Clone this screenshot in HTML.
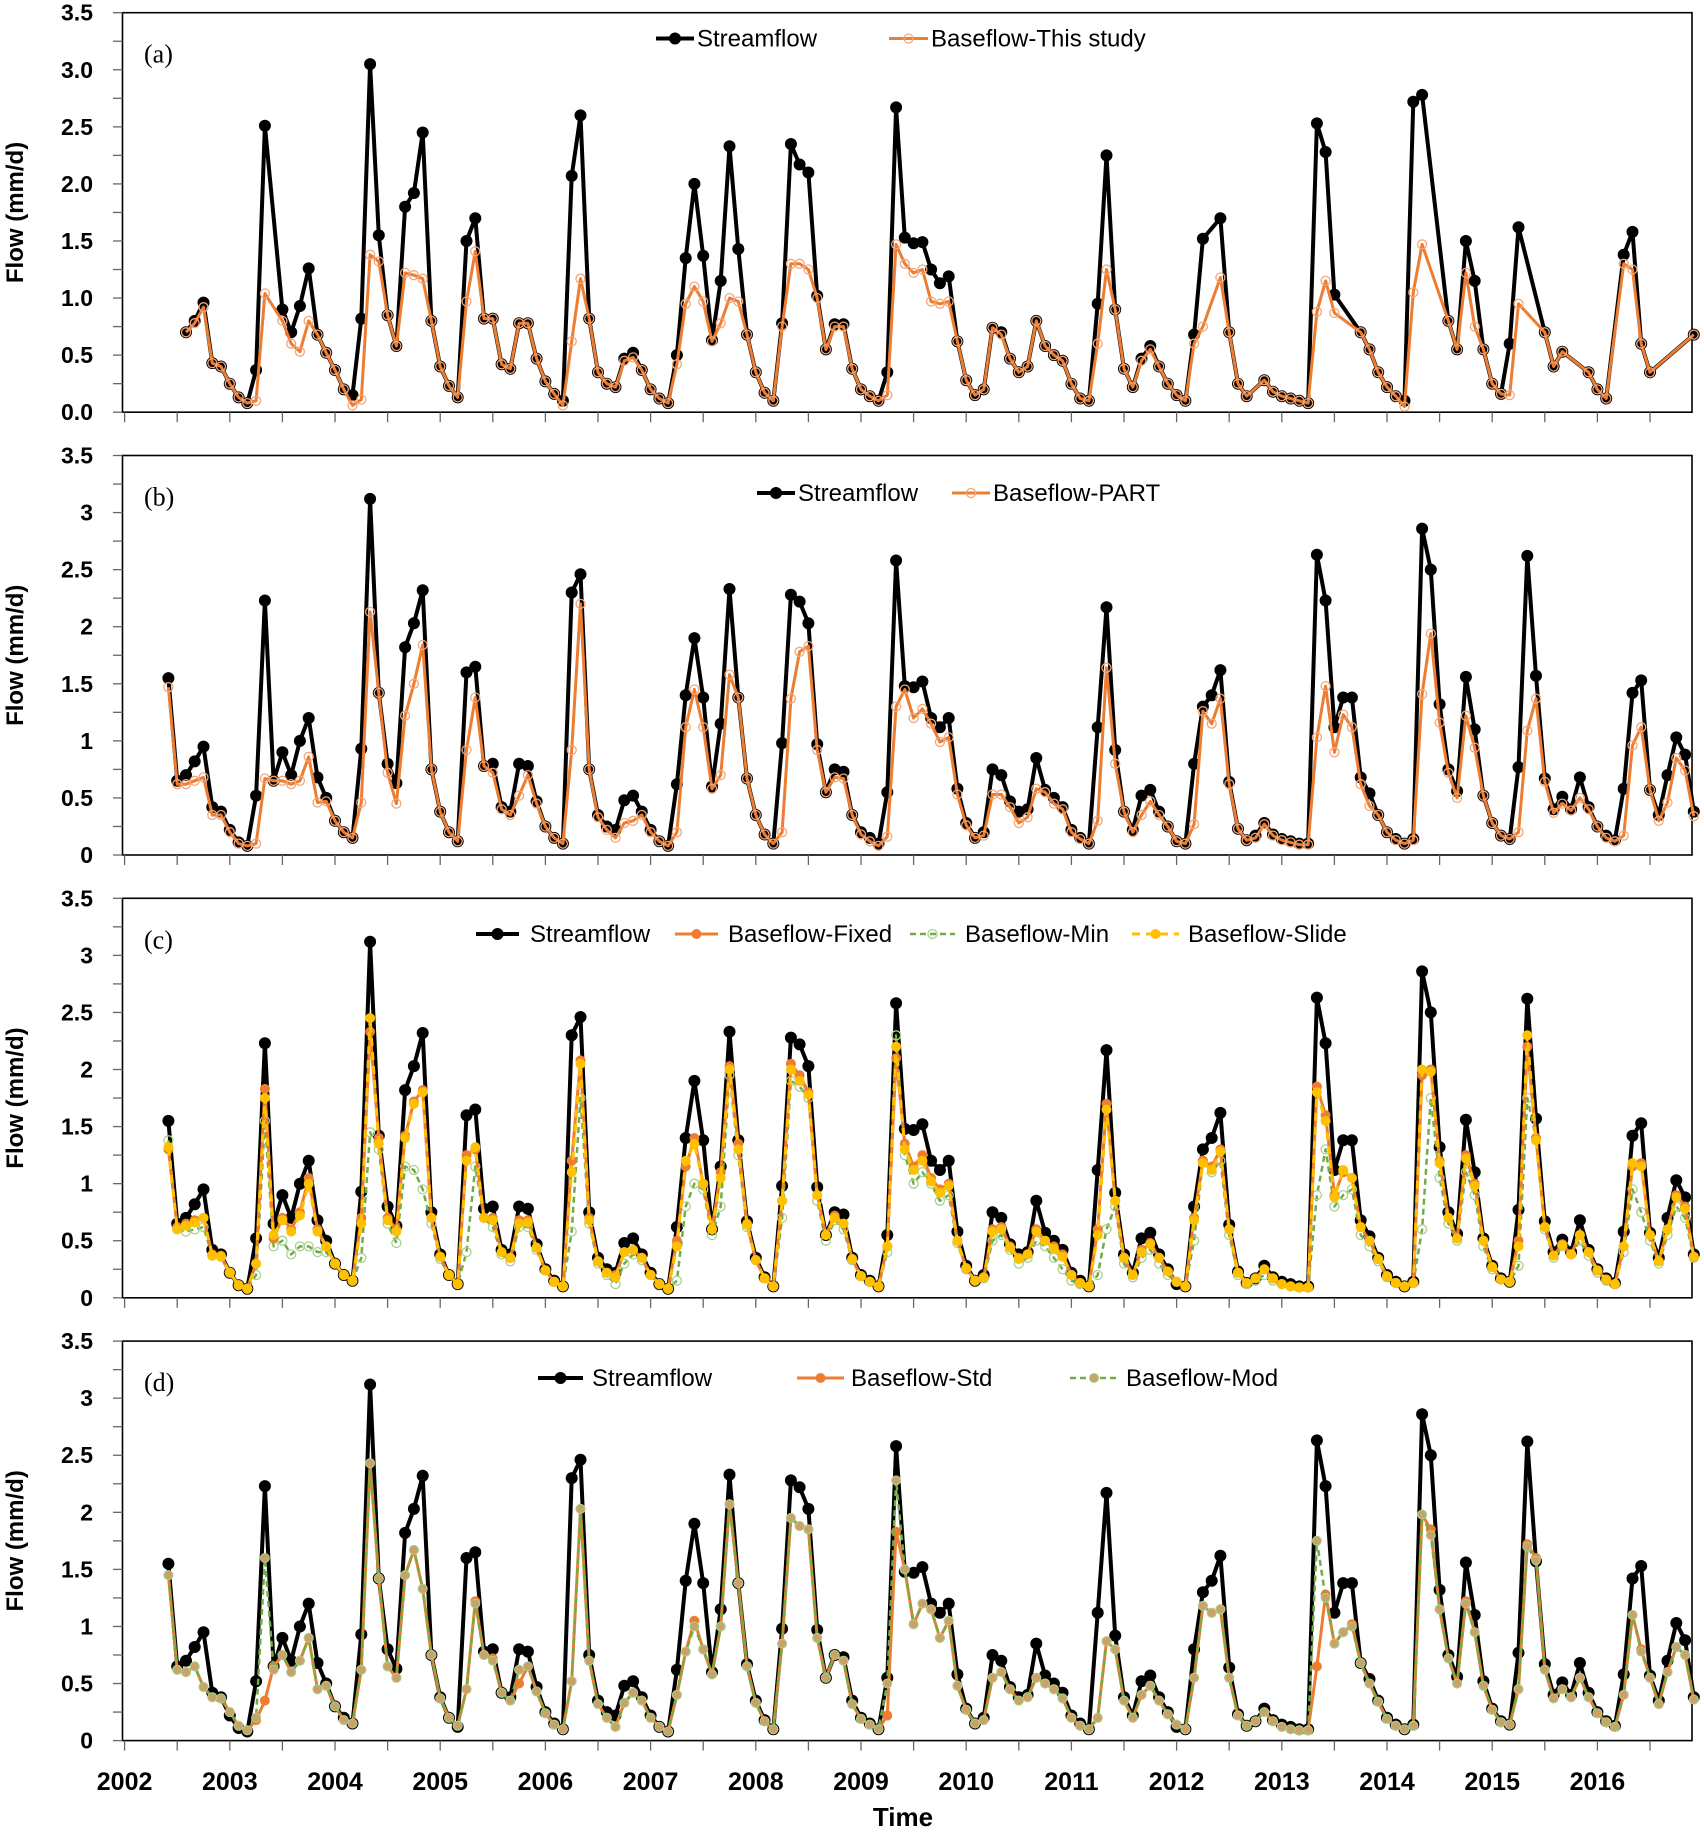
<!DOCTYPE html>
<html><head><meta charset="utf-8">
<style>
html,body{margin:0;padding:0;background:#fff;}
svg{display:block;}
text{font-family:"Liberation Sans",Arial,sans-serif;}
</style></head>
<body>
<svg id="chart" width="1704" height="1832" viewBox="0 0 1704 1832" xmlns="http://www.w3.org/2000/svg"></svg>
<script>
// ---- data (monthly, Jun 2002 .. Dec 2016) ----
const startYear = 2002;
const startMonth = 5; // June (0-based)
const yearTicks = [2002,2003,2004,2005,2006,2007,2008,2009,2010,2011,2012,2013,2014,2015,2016];
const yTicksA = ["0.0","0.5","1.0","1.5","2.0","2.5","3.0","3.5"];
const yTicksB = ["0","0.5","1","1.5","2","2.5","3","3.5"];
const n = null;

const streamflow = [
1.55,0.65,0.7,0.82,0.95,0.42,0.38,
0.22,0.11,0.08,0.52,2.23,0.65,0.9,0.7,1.0,1.2,0.68,0.5,
0.3,0.2,0.15,0.93,3.12,1.42,0.8,0.63,1.82,2.03,2.32,0.75,
0.38,0.2,0.12,1.6,1.65,0.78,0.8,0.42,0.38,0.8,0.78,0.47,
0.25,0.15,0.1,2.3,2.46,0.75,0.35,0.25,0.22,0.48,0.52,0.38,
0.22,0.12,0.08,0.62,1.4,1.9,1.38,0.6,1.15,2.33,1.38,0.67,
0.35,0.18,0.1,0.98,2.28,2.22,2.03,0.97,0.55,0.75,0.73,0.35,
0.2,0.15,0.1,0.55,2.58,1.48,1.47,1.52,1.2,1.12,1.2,0.58,
0.28,0.15,0.2,0.75,0.7,0.47,0.38,0.4,0.85,0.57,0.5,0.42,
0.22,0.15,0.1,1.12,2.17,0.92,0.38,0.22,0.52,0.57,0.38,0.25,
0.12,0.1,0.8,1.3,1.4,1.62,0.64,0.23,0.13,0.17,0.28,0.18,
0.14,0.12,0.1,0.1,2.63,2.23,1.12,1.38,1.38,0.68,0.54,0.35,
0.2,0.14,0.1,0.14,2.86,2.5,1.32,0.75,0.56,1.56,1.1,0.52,
0.28,0.17,0.14,0.77,2.62,1.57,0.67,0.4,0.51,0.4,0.68,0.42,
0.25,0.17,0.13,0.58,1.42,1.53,0.57,0.35,0.7,1.03,0.88,0.38];

const streamflowA = [
n,n,0.7,0.8,0.96,0.43,0.4,
0.25,0.13,0.08,0.37,2.51,n,0.9,0.7,0.93,1.26,0.68,0.52,
0.37,0.2,0.15,0.82,3.05,1.55,0.85,0.58,1.8,1.92,2.45,0.8,
0.4,0.23,0.13,1.5,1.7,0.82,0.82,0.42,0.38,0.78,0.78,0.47,
0.27,0.16,0.1,2.07,2.6,0.82,0.35,0.25,0.22,0.47,0.52,0.37,
0.2,0.12,0.08,0.5,1.35,2.0,1.37,0.63,1.15,2.33,1.43,0.68,
0.35,0.17,0.1,0.78,2.35,2.17,2.1,1.02,0.55,0.77,0.77,0.38,
0.2,0.14,0.1,0.35,2.67,1.53,1.48,1.49,1.25,1.13,1.19,0.62,
0.28,0.15,0.2,0.74,0.7,0.47,0.35,0.4,0.8,0.58,0.5,0.45,
0.25,0.12,0.1,0.95,2.25,0.9,0.38,0.22,0.47,0.58,0.4,0.25,
0.15,0.1,0.68,1.52,n,1.7,0.7,0.25,0.14,n,0.28,0.18,
0.14,0.12,0.1,0.08,2.53,2.28,1.03,n,n,0.7,0.55,0.35,
0.22,0.14,0.1,2.72,2.78,n,n,0.8,0.55,1.5,1.15,0.55,
0.25,0.16,0.6,1.62,n,n,0.7,0.4,0.53,n,n,0.35,
0.2,0.12,n,1.38,1.58,0.6,0.35,n,n,n,n,0.68];

const baseThisStudy = [
n,n,0.7,0.78,0.92,0.43,0.4,
0.25,0.13,0.08,0.1,1.04,n,0.8,0.6,0.53,0.8,0.68,0.52,
0.37,0.2,0.06,0.11,1.38,1.32,0.85,0.58,1.22,1.2,1.17,0.8,
0.4,0.23,0.13,0.97,1.41,0.82,0.82,0.42,0.38,0.78,0.78,0.47,
0.27,0.16,0.06,0.62,1.17,0.82,0.35,0.25,0.22,0.45,0.48,0.37,
0.2,0.12,0.08,0.42,0.95,1.1,0.97,0.62,0.78,1.0,0.97,0.68,
0.35,0.17,0.1,0.75,1.3,1.3,1.25,1.0,0.55,0.75,0.75,0.38,
0.2,0.14,0.1,0.15,1.47,1.3,1.22,1.25,0.97,0.95,0.97,0.62,
0.28,0.15,0.2,0.74,0.68,0.47,0.35,0.4,0.8,0.58,0.5,0.45,
0.25,0.12,0.1,0.6,1.25,0.9,0.38,0.22,0.45,0.55,0.4,0.25,
0.15,0.1,0.6,0.75,n,1.18,0.7,0.25,0.14,n,0.28,0.18,
0.14,0.12,0.1,0.08,0.88,1.15,0.87,n,n,0.7,0.55,0.35,
0.22,0.14,0.05,1.05,1.47,n,n,0.8,0.55,1.22,0.75,0.55,
0.25,0.16,0.15,0.95,n,n,0.7,0.4,0.53,n,n,0.35,
0.2,0.12,n,1.3,1.25,0.6,0.35,n,n,n,n,0.68];

const basePART = [
1.47,0.62,0.62,0.65,0.68,0.35,0.35,
0.2,0.1,0.08,0.1,0.67,0.65,0.65,0.62,0.65,0.86,0.46,0.47,
0.3,0.2,0.15,0.46,2.13,1.42,0.72,0.45,1.22,1.5,1.84,0.75,
0.38,0.2,0.12,0.92,1.38,0.78,0.72,0.4,0.35,0.52,0.7,0.45,
0.25,0.15,0.1,0.92,2.2,0.75,0.33,0.22,0.15,0.28,0.3,0.35,
0.2,0.12,0.08,0.2,1.12,1.45,1.12,0.58,0.7,1.58,1.38,0.67,
0.35,0.18,0.1,0.2,1.37,1.78,1.83,0.92,0.55,0.68,0.67,0.35,
0.18,0.12,0.08,0.16,1.3,1.45,1.2,1.28,1.15,0.99,1.03,0.53,
0.26,0.15,0.17,0.53,0.53,0.42,0.28,0.33,0.58,0.55,0.45,0.4,
0.2,0.14,0.1,0.3,1.64,0.8,0.38,0.2,0.35,0.47,0.35,0.25,
0.12,0.1,0.27,1.26,1.15,1.37,0.62,0.23,0.13,0.15,0.27,0.17,
0.13,0.11,0.09,0.09,1.03,1.48,0.9,1.23,1.12,0.62,0.43,0.35,
0.2,0.13,0.1,0.13,1.41,1.94,1.16,0.72,0.5,1.22,0.94,0.52,
0.28,0.17,0.14,0.2,1.09,1.37,0.64,0.37,0.45,0.39,0.5,0.4,
0.25,0.15,0.12,0.17,0.96,1.12,0.57,0.3,0.46,0.85,0.74,0.34];

const baseFixed = [
1.3,0.62,0.65,0.68,0.7,0.38,0.37,
0.22,0.11,0.08,0.3,1.83,0.52,0.7,0.6,0.75,1.05,0.6,0.45,
0.3,0.2,0.15,0.7,2.33,1.4,0.7,0.6,1.42,1.72,1.82,0.7,
0.36,0.2,0.12,1.25,1.3,0.7,0.7,0.4,0.35,0.68,0.68,0.44,
0.24,0.14,0.1,1.2,2.08,0.7,0.32,0.22,0.2,0.4,0.42,0.35,
0.2,0.12,0.08,0.5,1.15,1.4,1.0,0.6,1.1,2.03,1.35,0.65,
0.33,0.17,0.1,0.85,2.05,1.95,1.8,0.9,0.55,0.72,0.65,0.34,
0.19,0.14,0.1,0.45,2.1,1.35,1.15,1.25,1.05,0.95,1.0,0.5,
0.26,0.15,0.18,0.6,0.62,0.45,0.35,0.38,0.6,0.5,0.45,0.38,
0.2,0.13,0.1,0.6,1.7,0.85,0.35,0.2,0.42,0.48,0.35,0.23,
0.14,0.1,0.7,1.2,1.15,1.3,0.6,0.22,0.13,0.17,0.25,0.17,
0.12,0.1,0.09,0.09,1.85,1.6,0.9,1.1,1.05,0.62,0.5,0.34,
0.19,0.13,0.1,0.13,1.95,2.0,1.2,0.7,0.52,1.25,1.0,0.5,
0.27,0.16,0.14,0.5,2.2,1.4,0.62,0.37,0.47,0.38,0.55,0.4,
0.24,0.16,0.12,0.45,1.15,1.18,0.55,0.32,0.6,0.9,0.8,0.36];

const baseMin = [
1.38,0.6,0.58,0.6,0.62,0.37,0.36,
0.22,0.11,0.08,0.2,1.55,0.45,0.5,0.38,0.45,0.45,0.4,0.4,
0.3,0.2,0.15,0.35,1.45,1.3,0.65,0.48,1.15,1.12,0.95,0.65,
0.34,0.2,0.12,0.4,1.15,0.7,0.62,0.38,0.32,0.62,0.62,0.42,
0.24,0.14,0.1,0.58,1.75,0.65,0.3,0.2,0.12,0.3,0.38,0.33,
0.2,0.12,0.08,0.15,0.8,1.0,0.95,0.55,0.8,1.95,1.25,0.62,
0.33,0.17,0.1,0.7,1.9,1.85,1.75,0.85,0.5,0.68,0.6,0.33,
0.19,0.14,0.1,0.4,2.3,1.25,1.0,1.1,1.0,0.85,0.9,0.48,
0.25,0.15,0.17,0.5,0.55,0.42,0.3,0.35,0.5,0.45,0.35,0.25,
0.15,0.12,0.1,0.2,0.6,0.8,0.3,0.18,0.35,0.42,0.3,0.2,
0.14,0.1,0.5,1.2,1.1,1.2,0.55,0.2,0.12,0.15,0.2,0.15,
0.12,0.1,0.09,0.09,0.9,1.3,0.8,0.9,0.95,0.55,0.45,0.32,
0.18,0.13,0.1,0.13,0.6,1.75,1.05,0.65,0.5,1.1,0.9,0.45,
0.25,0.16,0.14,0.28,1.75,1.4,0.6,0.35,0.45,0.38,0.5,0.37,
0.22,0.15,0.12,0.4,0.95,0.75,0.5,0.3,0.55,0.8,0.7,0.35];

const baseSlide = [
1.32,0.6,0.63,0.66,0.7,0.37,0.36,
0.22,0.11,0.08,0.3,1.75,0.55,0.68,0.58,0.72,1.0,0.58,0.45,
0.3,0.2,0.15,0.65,2.45,1.35,0.68,0.58,1.4,1.7,1.8,0.7,
0.36,0.2,0.12,1.2,1.32,0.7,0.68,0.4,0.35,0.65,0.66,0.44,
0.24,0.14,0.1,1.1,2.05,0.68,0.32,0.22,0.18,0.4,0.42,0.35,
0.2,0.12,0.08,0.45,1.2,1.35,1.0,0.6,1.05,2.0,1.3,0.64,
0.33,0.17,0.1,0.85,2.0,1.9,1.78,0.9,0.55,0.7,0.65,0.34,
0.19,0.14,0.1,0.45,2.2,1.3,1.12,1.2,1.02,0.92,0.98,0.5,
0.26,0.15,0.18,0.58,0.6,0.44,0.34,0.38,0.58,0.5,0.43,0.36,
0.2,0.13,0.1,0.55,1.65,0.85,0.35,0.2,0.4,0.47,0.35,0.23,
0.14,0.1,0.68,1.18,1.12,1.28,0.6,0.22,0.13,0.17,0.25,0.17,
0.12,0.1,0.09,0.09,1.8,1.55,0.88,1.12,1.05,0.62,0.5,0.34,
0.19,0.13,0.1,0.13,2.0,1.98,1.18,0.7,0.52,1.22,0.98,0.5,
0.27,0.16,0.14,0.45,2.3,1.38,0.62,0.37,0.46,0.38,0.55,0.4,
0.24,0.16,0.12,0.45,1.18,1.15,0.55,0.32,0.6,0.88,0.78,0.36];

const baseStd = [
1.45,0.62,0.6,0.65,0.47,0.38,0.37,
0.25,0.13,0.09,0.18,0.35,0.65,0.75,0.6,0.7,0.9,0.45,0.48,
0.3,0.18,0.15,0.62,2.43,1.42,0.65,0.55,1.45,1.67,1.33,0.75,
0.37,0.2,0.13,0.45,1.22,0.75,0.72,0.42,0.35,0.5,0.65,0.43,
0.24,0.14,0.1,0.52,2.03,0.7,0.32,0.2,0.12,0.33,0.42,0.35,
0.2,0.12,0.08,0.4,0.78,1.05,0.8,0.58,1.0,2.07,1.38,0.65,
0.33,0.17,0.1,0.85,1.95,1.88,1.85,0.9,0.55,0.75,0.7,0.32,
0.19,0.14,0.1,0.22,1.83,1.5,1.02,1.2,1.15,0.9,1.05,0.48,
0.27,0.15,0.18,0.55,0.6,0.45,0.35,0.38,0.55,0.5,0.45,0.37,
0.2,0.13,0.1,0.2,0.87,0.8,0.35,0.2,0.4,0.48,0.35,0.23,
0.14,0.1,0.55,1.18,1.12,1.15,0.55,0.22,0.13,0.17,0.25,0.17,
0.12,0.1,0.09,0.09,0.65,1.28,0.85,0.95,1.02,0.68,0.5,0.34,
0.19,0.13,0.1,0.13,1.98,1.85,1.15,0.72,0.5,1.22,0.95,0.48,
0.27,0.16,0.14,0.45,1.72,1.6,0.62,0.37,0.45,0.38,0.55,0.38,
0.24,0.16,0.12,0.4,1.1,0.8,0.55,0.32,0.6,0.82,0.75,0.36];

const baseMod = [
1.45,0.62,0.6,0.65,0.47,0.38,0.37,
0.25,0.13,0.09,0.2,1.6,0.62,0.75,0.6,0.7,0.9,0.45,0.48,
0.3,0.18,0.15,0.62,2.43,1.42,0.65,0.55,1.45,1.67,1.33,0.75,
0.37,0.2,0.13,0.45,1.2,0.75,0.7,0.42,0.35,0.62,0.65,0.43,
0.24,0.14,0.1,0.52,2.03,0.7,0.32,0.2,0.12,0.33,0.42,0.35,
0.2,0.12,0.08,0.4,0.78,1.0,0.8,0.58,1.0,2.07,1.38,0.65,
0.33,0.17,0.1,0.85,1.95,1.88,1.85,0.9,0.55,0.75,0.7,0.32,
0.19,0.14,0.1,0.5,2.28,1.5,1.02,1.2,1.15,0.9,1.05,0.48,
0.27,0.15,0.18,0.55,0.6,0.45,0.35,0.38,0.55,0.5,0.45,0.37,
0.2,0.13,0.1,0.2,0.87,0.8,0.35,0.2,0.4,0.48,0.35,0.23,
0.14,0.1,0.55,1.18,1.12,1.15,0.55,0.22,0.13,0.17,0.25,0.17,
0.12,0.1,0.09,0.09,1.75,1.25,0.85,0.95,1.0,0.68,0.5,0.34,
0.19,0.13,0.1,0.13,1.98,1.8,1.15,0.72,0.5,1.2,0.95,0.48,
0.27,0.16,0.14,0.45,1.7,1.58,0.62,0.37,0.45,0.38,0.55,0.38,
0.24,0.16,0.12,0.4,1.1,0.78,0.55,0.32,0.6,0.82,0.75,0.36];

// ---- layout ----
const svg = document.getElementById('chart');
const NS = 'http://www.w3.org/2000/svg';
const X0 = 122.5, X1 = 1692;
const xYear0 = 124.6, pxPerYear = 105.2;
const panelTops = [12.7, 455.5, 898.3, 1341.1];
const PH = 399.5, YMAX = 3.5;
const ORANGE = '#ED7D31', GREEN = '#70AD47', YELLOW = '#FFC000';

function xOfIndex(i){ return xYear0 + ((startMonth + i)/12) * pxPerYear; }
function xOfYear(y){ return xYear0 + (y - startYear) * pxPerYear; }
function yScale(top){ return v => top + PH - (v / YMAX) * PH; }
function mk(tag, attrs, parent){
  const e = document.createElementNS(NS, tag);
  for (const k in attrs) e.setAttribute(k, attrs[k]);
  (parent || svg).appendChild(e);
  return e;
}

function drawSeries(g, data, ys, opt, name){
  const sg = mk('g', {}, g);
  
  
  const pts = [];
  data.forEach((v,i) => { if (v !== null) pts.push(xOfIndex(i).toFixed(1)+','+ys(v).toFixed(1)); });
  const line = mk('polyline', {points: pts.join(' '), fill:'none', stroke: opt.color, 'stroke-width': opt.width, 'stroke-linejoin':'round', 'stroke-dasharray': opt.dash || 'none'}, sg);
  
  
  data.forEach((v,i) => {
    if (v === null) return;
    const c = mk('circle', {cx: xOfIndex(i).toFixed(1), cy: ys(v).toFixed(1), r: opt.r, fill: opt.fill, stroke: opt.mstroke, 'stroke-width': opt.mw}, sg);
    
    
  });
}

function legendEntry(g, x1, x2, tx, y, opt, label){
  const lg = mk('g', {}, g);
  
  
  mk('line', {x1:x1, x2:x2, y1:y, y2:y, stroke:opt.color, 'stroke-width':opt.width, 'stroke-dasharray': opt.dash || 'none'}, lg);
  mk('circle', {cx:(x1+x2)/2, cy:y, r:opt.r, fill:opt.fill, stroke:opt.mstroke, 'stroke-width':opt.mw}, lg);
  const t = mk('text', {x:tx, y:y+8, 'font-size':24, fill:'#000'}, lg);
  t.textContent = label;
}

const sStyle = {color:'#000', width:4, r:5.5, fill:'#000', mstroke:'#000', mw:1};
const openOrange = {color:ORANGE, width:3, r:4.5, fill:'none', mstroke:'#F4A67A', mw:1.3};
const fixedStyle = {color:ORANGE, width:3, r:4.5, fill:ORANGE, mstroke:ORANGE, mw:1};
const minStyle = {color:GREEN, width:2.5, dash:'6,4', r:4.5, fill:'none', mstroke:'#A9D18E', mw:1.3};
const slideStyle = {color:YELLOW, width:3, dash:'8,6', r:4.5, fill:YELLOW, mstroke:YELLOW, mw:1};
const stdStyle = {color:ORANGE, width:3, r:4.5, fill:ORANGE, mstroke:ORANGE, mw:1};
const modStyle = {color:GREEN, width:2.5, dash:'6,4', r:4.5, fill:'#C9A26A', mstroke:'#A9D18E', mw:1};

const panels = [
  {id:'a', ticks:yTicksA, series:[[streamflowA,sStyle,'streamflow'],[baseThisStudy,openOrange,'baseflow-this-study']],
   legend:[[656,694,697,'Streamflow',sStyle],[889,928,931,'Baseflow-This study',openOrange]], ly:38.5},
  {id:'b', ticks:yTicksB, series:[[streamflow,sStyle,'streamflow'],[basePART,openOrange,'baseflow-part']],
   legend:[[757,795,798,'Streamflow',sStyle],[952,990,993,'Baseflow-PART',openOrange]], ly:493},
  {id:'c', ticks:yTicksB, series:[[streamflow,sStyle,'streamflow'],[baseMin,minStyle,'baseflow-min'],[baseFixed,fixedStyle,'baseflow-fixed'],[baseSlide,slideStyle,'baseflow-slide']],
   legend:[[476,519,530,'Streamflow',sStyle],[675,718,728,'Baseflow-Fixed',fixedStyle],[910,955,965,'Baseflow-Min',minStyle],[1132,1179,1188,'Baseflow-Slide',slideStyle]], ly:934},
  {id:'d', ticks:yTicksB, series:[[streamflow,sStyle,'streamflow'],[baseStd,stdStyle,'baseflow-std'],[baseMod,modStyle,'baseflow-mod']],
   legend:[[538,583,592,'Streamflow',sStyle],[797,844,851,'Baseflow-Std',stdStyle],[1070,1118,1126,'Baseflow-Mod',modStyle]], ly:1378}
];

panels.forEach((p, pi) => {
  const top = panelTops[pi];
  const ys = yScale(top);
  const g = mk('g', {});
  
  
  const fr = mk('rect', {x:X0, y:top, width:X1-X0, height:PH, fill:'#fff', stroke:'#000', 'stroke-width':1.6}, g);
  
  
  const yax = mk('g', {}, g);
  
  
  for (let k = 0; k <= 14; k++) {
    const v = k * 0.25, yy = ys(v);
    mk('line', {x1:113, x2:X0, y1:yy, y2:yy, stroke:'#666', 'stroke-width':1.3}, yax);
  }
  p.ticks.forEach((lab, k) => {
    const t = mk('text', {x:93, y:ys(k*0.5)+8, 'text-anchor':'end', 'font-size':23, 'font-weight':'bold'}, yax);
    t.textContent = lab;
  });
  const xax = mk('g', {}, g);
  
  
  for (let h = 0; h <= 29; h++) {
    const xx = xOfYear(startYear + h/2);
    if (xx > X1) break;
    mk('line', {x1:xx, x2:xx, y1:top+PH, y2:top+PH+10, stroke:'#666', 'stroke-width':1.3}, xax);
  }
  const yt = mk('text', {x:0, y:0, transform:`translate(23,${top+PH/2}) rotate(-90)`, 'text-anchor':'middle', 'font-size':24, 'font-weight':'bold'}, g);
  
  
  yt.textContent = 'Flow (mm/d)';
  const pl = mk('text', {x:144, y:top+50, 'font-size':26, style:'font-family:"Liberation Serif",serif'}, g);
  
  
  pl.textContent = '(' + p.id + ')';
  p.series.forEach(s => drawSeries(g, s[0], ys, s[1], s[2]));
  const lg = mk('g', {}, g);
  
  
  p.legend.forEach(e => legendEntry(lg, e[0], e[1], e[2], p.ly, e[4], e[3]));
});

const xl = mk('g', {});


yearTicks.forEach(y => {
  const t = mk('text', {x:xOfYear(y), y:1790, 'text-anchor':'middle', 'font-size':25, 'font-weight':'bold'}, xl);
  t.textContent = y;
});
const xt = mk('text', {x:903, y:1826, 'text-anchor':'middle', 'font-size':26, 'font-weight':'bold'});


xt.textContent = 'Time';
</script>
</body></html>
